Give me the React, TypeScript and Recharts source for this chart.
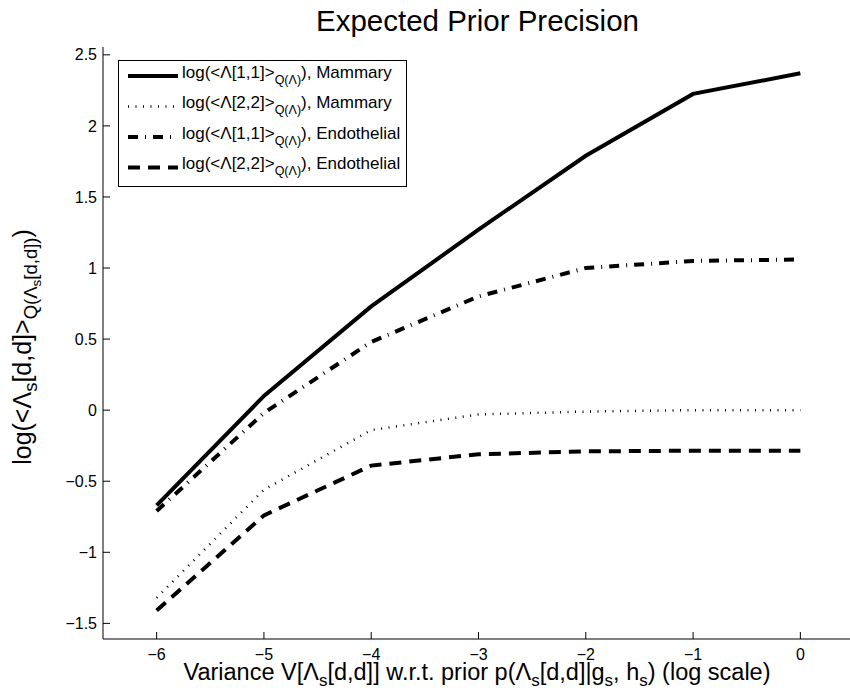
import React from 'react';
import { LineChart, Line, XAxis, YAxis, Legend } from 'recharts';

const xValues = [-6, -5, -4, -3, -2, -1, 0];
const mammary11 = [-0.67, 0.1, 0.73, 1.27, 1.79, 2.225, 2.37];
const mammary22 = [-1.32, -0.56, -0.14, -0.03, -0.01, 0.0, 0.0];
const endo11 = [-0.71, -0.02, 0.48, 0.8, 1.0, 1.05, 1.06];
const endo22 = [-1.41, -0.74, -0.39, -0.31, -0.29, -0.285, -0.285];

const xTicks = [-6, -5, -4, -3, -2, -1, 0];
const yTicks = [-1.5, -1, -0.5, 0, 0.5, 1, 1.5, 2, 2.5];

const LAMBDA = '\u039B';
const legendPre = ['log(<' + LAMBDA + '[1,1]>', 'log(<' + LAMBDA + '[2,2]>', 'log(<' + LAMBDA + '[1,1]>', 'log(<' + LAMBDA + '[2,2]>'];
const legendSub = 'Q(' + LAMBDA + ')';
const legendTissue = ['Mammary', 'Mammary', 'Endothelial', 'Endothelial'];

const FONT = '"Liberation Sans", Arial, Helvetica, sans-serif';

const series = [
  { key: 'm11', width: 4, dash: undefined as string | undefined },
  { key: 'm22', width: 2.5, dash: '1 6.5' },
  { key: 'e11', width: 4, dash: '10 7 1 7' },
  { key: 'e22', width: 4, dash: '12 8' },
];

const data = xValues.map((x, i) => ({
  x,
  m11: mammary11[i],
  m22: mammary22[i],
  e11: endo11[i],
  e22: endo22[i],
}));

const fmt = (v: number) => (v < 0 ? '\u2212' + String(Math.abs(v)) : String(v));

const renderLegend = () => (
  <svg width={289} height={127} style={{ display: 'block' }}>
    <rect x={0.5} y={0.5} width={288} height={126} fill="#fff" stroke="#000" strokeWidth={1} />
    {series.map((s, i) => {
      const y = 16 + i * 30.5;
      return (
        <g key={s.key}>
          <line x1={10} x2={60} y1={y} y2={y} stroke="#000" strokeWidth={s.width} strokeDasharray={s.dash} />
          <text x={64} y={y + 1.5} fontSize={17} fontFamily={FONT} fill="#000">
            {legendPre[i]}
            <tspan fontSize={12.5} dy={6}>{legendSub}</tspan>
            <tspan dy={-6}>{'), ' + legendTissue[i]}</tspan>
          </text>
        </g>
      );
    })}
  </svg>
);

const xLabel = (props: any) => {
  const vb = props.viewBox || { x: 103, y: 639, width: 750 };
  const cx = vb.x + vb.width / 2 - 1.5;
  return (
    <text x={cx} y={vb.y + 41} textAnchor="middle" fontSize={23.5} fontFamily={FONT} fill="#000">
      {'Variance V[' + LAMBDA}
      <tspan fontSize={17} dy={6}>s</tspan>
      <tspan dy={-6}>{'[d,d]] w.r.t. prior p(' + LAMBDA}</tspan>
      <tspan fontSize={17} dy={6}>s</tspan>
      <tspan dy={-6}>[d,d]|g</tspan>
      <tspan fontSize={17} dy={6}>s</tspan>
      <tspan dy={-6}>, h</tspan>
      <tspan fontSize={17} dy={6}>s</tspan>
      <tspan dy={-6}>) (log scale)</tspan>
    </text>
  );
};

const yLabelAndTitle = () => {
  const cx = 30.5;
  const cy = 347;
  return (
    <g>
      <text x={cx} y={cy} textAnchor="middle" fontSize={25} fontFamily={FONT} fill="#000" transform={`rotate(-90 ${cx} ${cy})`}>
        {'log(<' + LAMBDA}
        <tspan fontSize={18.5} dy={6}>s</tspan>
        <tspan dy={-6}>{'[d,d]>'}</tspan>
        <tspan fontSize={18.5} dy={6}>{'Q(' + LAMBDA}</tspan>
        <tspan fontSize={13.5} dy={4}>s</tspan>
        <tspan fontSize={18.5} dy={-4}>[d,d])</tspan>
        <tspan dy={-6}>)</tspan>
      </text>
      <text x={477.5} y={31} textAnchor="middle" fontSize={29.5} fontFamily={FONT} fill="#000">
        Expected Prior Precision
      </text>
    </g>
  );
};

export default function App() {
  const tickStyle = { fontSize: 16, fontFamily: FONT, fill: '#000' };
  return (
    <div style={{ position: 'absolute', left: 0, top: 0, width: 850, height: 694, overflow: 'hidden', background: '#fff' }}>
      <LineChart width={854} height={694} data={data} margin={{ top: 47, right: 0, bottom: 25, left: 43 }}>
        <XAxis
          dataKey="x"
          type="number"
          domain={[-6.5, 0.5]}
          ticks={xTicks}
          allowDataOverflow
          height={30}
          tickSize={-7}
          tickMargin={17}
          tickFormatter={fmt}
          tick={tickStyle}
          stroke="#000"
          axisLine={{ stroke: '#000' }}
          tickLine={{ stroke: '#000' }}
          label={xLabel}
        />
        <XAxis
          xAxisId="top"
          dataKey="x"
          type="number"
          orientation="top"
          domain={[-6.5, 0.5]}
          ticks={xTicks}
          allowDataOverflow
          height={0}
          tickSize={-7}
          tickFormatter={() => ''}
          axisLine={{ stroke: '#000' }}
          tickLine={{ stroke: '#000' }}
        />
        <YAxis
          type="number"
          domain={[-1.61, 2.555]}
          ticks={yTicks}
          allowDataOverflow
          width={60}
          tickSize={-7}
          tickMargin={13}
          tickFormatter={fmt}
          tick={tickStyle}
          axisLine={{ stroke: '#000' }}
          tickLine={{ stroke: '#000' }}
          label={yLabelAndTitle}
        />
        <YAxis
          yAxisId="right"
          orientation="right"
          type="number"
          domain={[-1.61, 2.555]}
          ticks={yTicks}
          allowDataOverflow
          width={0}
          tickSize={-7}
          tickFormatter={() => ''}
          axisLine={{ stroke: '#000' }}
          tickLine={{ stroke: '#000' }}
        />
        <Legend
          layout="vertical"
          align="center"
          verticalAlign="middle"
          content={renderLegend}
          wrapperStyle={{ left: 118, top: 60, width: 289, height: 127 }}
        />
        {series.map((s) => (
          <Line
            key={s.key}
            dataKey={s.key}
            type="linear"
            stroke="#000"
            strokeWidth={s.width}
            strokeDasharray={s.dash}
            dot={false}
            activeDot={false}
            isAnimationActive={false}
          />
        ))}
      </LineChart>
    </div>
  );
}
